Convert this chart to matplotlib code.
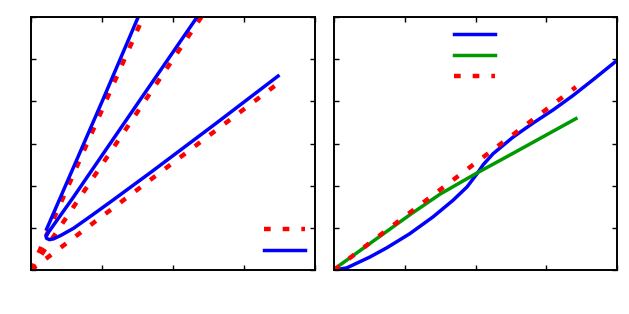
import matplotlib
matplotlib.use("Agg")
import matplotlib.pyplot as plt

# ---- left panel data ----
# red dotted reference lines (all start at the origin)
red_steep_x = [0.0, 1.58]
red_steep_y = [0.0, 6.0]
red_mid_x = [0.0, 2.40]
red_mid_y = [0.0, 6.0]
red_low_x = [0.0, 3.46]
red_low_y = [0.0, 4.40]

# blue curves
blue_steep_x = [0.22, 1.01, 1.51]
blue_steep_y = [0.97, 4.03, 6.0]
blue_hook_x = [3.48, 2.60, 1.69, 1.14, 0.86, 0.60, 0.42, 0.32, 0.26, 0.22, 0.21, 0.24, 0.59, 1.535, 2.34]
blue_hook_y = [4.60, 3.47, 2.32, 1.64, 1.30, 0.99, 0.82, 0.74, 0.72, 0.75, 0.81, 0.88, 1.71, 4.03, 6.0]

# ---- right panel data ----
blue_r_x = [0.0, 0.18, 0.51, 0.75, 1.07, 1.40, 1.68, 1.88, 2.02, 2.11, 2.25, 2.53, 2.81, 3.10, 3.38, 3.66, 3.97]
blue_r_y = [0.0, 0.05, 0.31, 0.53, 0.86, 1.26, 1.65, 1.97, 2.28, 2.50, 2.76, 3.15, 3.48, 3.80, 4.14, 4.51, 4.93]
green_r_x = [0.085, 1.09, 1.50, 2.02, 2.49, 3.42]
green_r_y = [0.12, 1.33, 1.80, 2.30, 2.73, 3.59]
red_r_x = [0.0, 3.42]
red_r_y = [0.0, 4.34]

RED = "#ff0000"
BLUE = "#0000ff"
GREEN = "#009900"
dots = (0, (1.5, 2.7))

fig = plt.figure(figsize=(6.29, 3.14), dpi=100)
ax1 = fig.add_axes([31 / 629, 44 / 314, 284 / 629, 253 / 314])
ax2 = fig.add_axes([334 / 629, 44 / 314, 283 / 629, 253 / 314])


def style_axes(ax):
    ax.set_xlim(0, 4)
    ax.set_ylim(0, 6)
    ax.set_xticks([0, 1, 2, 3, 4])
    ax.set_yticks([0, 1, 2, 3, 4, 5, 6])
    ax.tick_params(direction="in", length=3.6, width=1.0,
                   top=True, right=True, labelbottom=False, labelleft=False)
    for sp in ax.spines.values():
        sp.set_linewidth(1.4)


# left panel
l_red, = ax1.plot(red_steep_x, red_steep_y, color=RED, lw=3.2, linestyle=dots)
ax1.plot(red_mid_x, red_mid_y, color=RED, lw=3.2, linestyle=dots)
ax1.plot(red_low_x, red_low_y, color=RED, lw=3.2, linestyle=dots)
l_blue, = ax1.plot(blue_steep_x, blue_steep_y, color=BLUE, lw=2.5)
ax1.plot(blue_hook_x, blue_hook_y, color=BLUE, lw=2.5)
style_axes(ax1)
ax1.legend([l_red, l_blue], ["", ""], loc="center",
           bbox_to_anchor=(0.894, 0.117), frameon=False, fontsize=10,
           handlelength=2.95, handletextpad=0.0, borderpad=0.0,
           labelspacing=0.5, markerfirst=False)

# right panel
r_blue, = ax2.plot(blue_r_x, blue_r_y, color=BLUE, lw=2.5)
r_green, = ax2.plot(green_r_x, green_r_y, color=GREEN, lw=2.5)
r_red, = ax2.plot(red_r_x, red_r_y, color=RED, lw=3.2, linestyle=dots)
style_axes(ax2)
ax2.legend([r_blue, r_green, r_red], ["", "", ""], loc="center",
           bbox_to_anchor=(0.495, 0.848), frameon=False, fontsize=10,
           handlelength=2.95, handletextpad=0.0, borderpad=0.0,
           labelspacing=0.5, markerfirst=False)

fig.savefig("out.png", dpi=100)
